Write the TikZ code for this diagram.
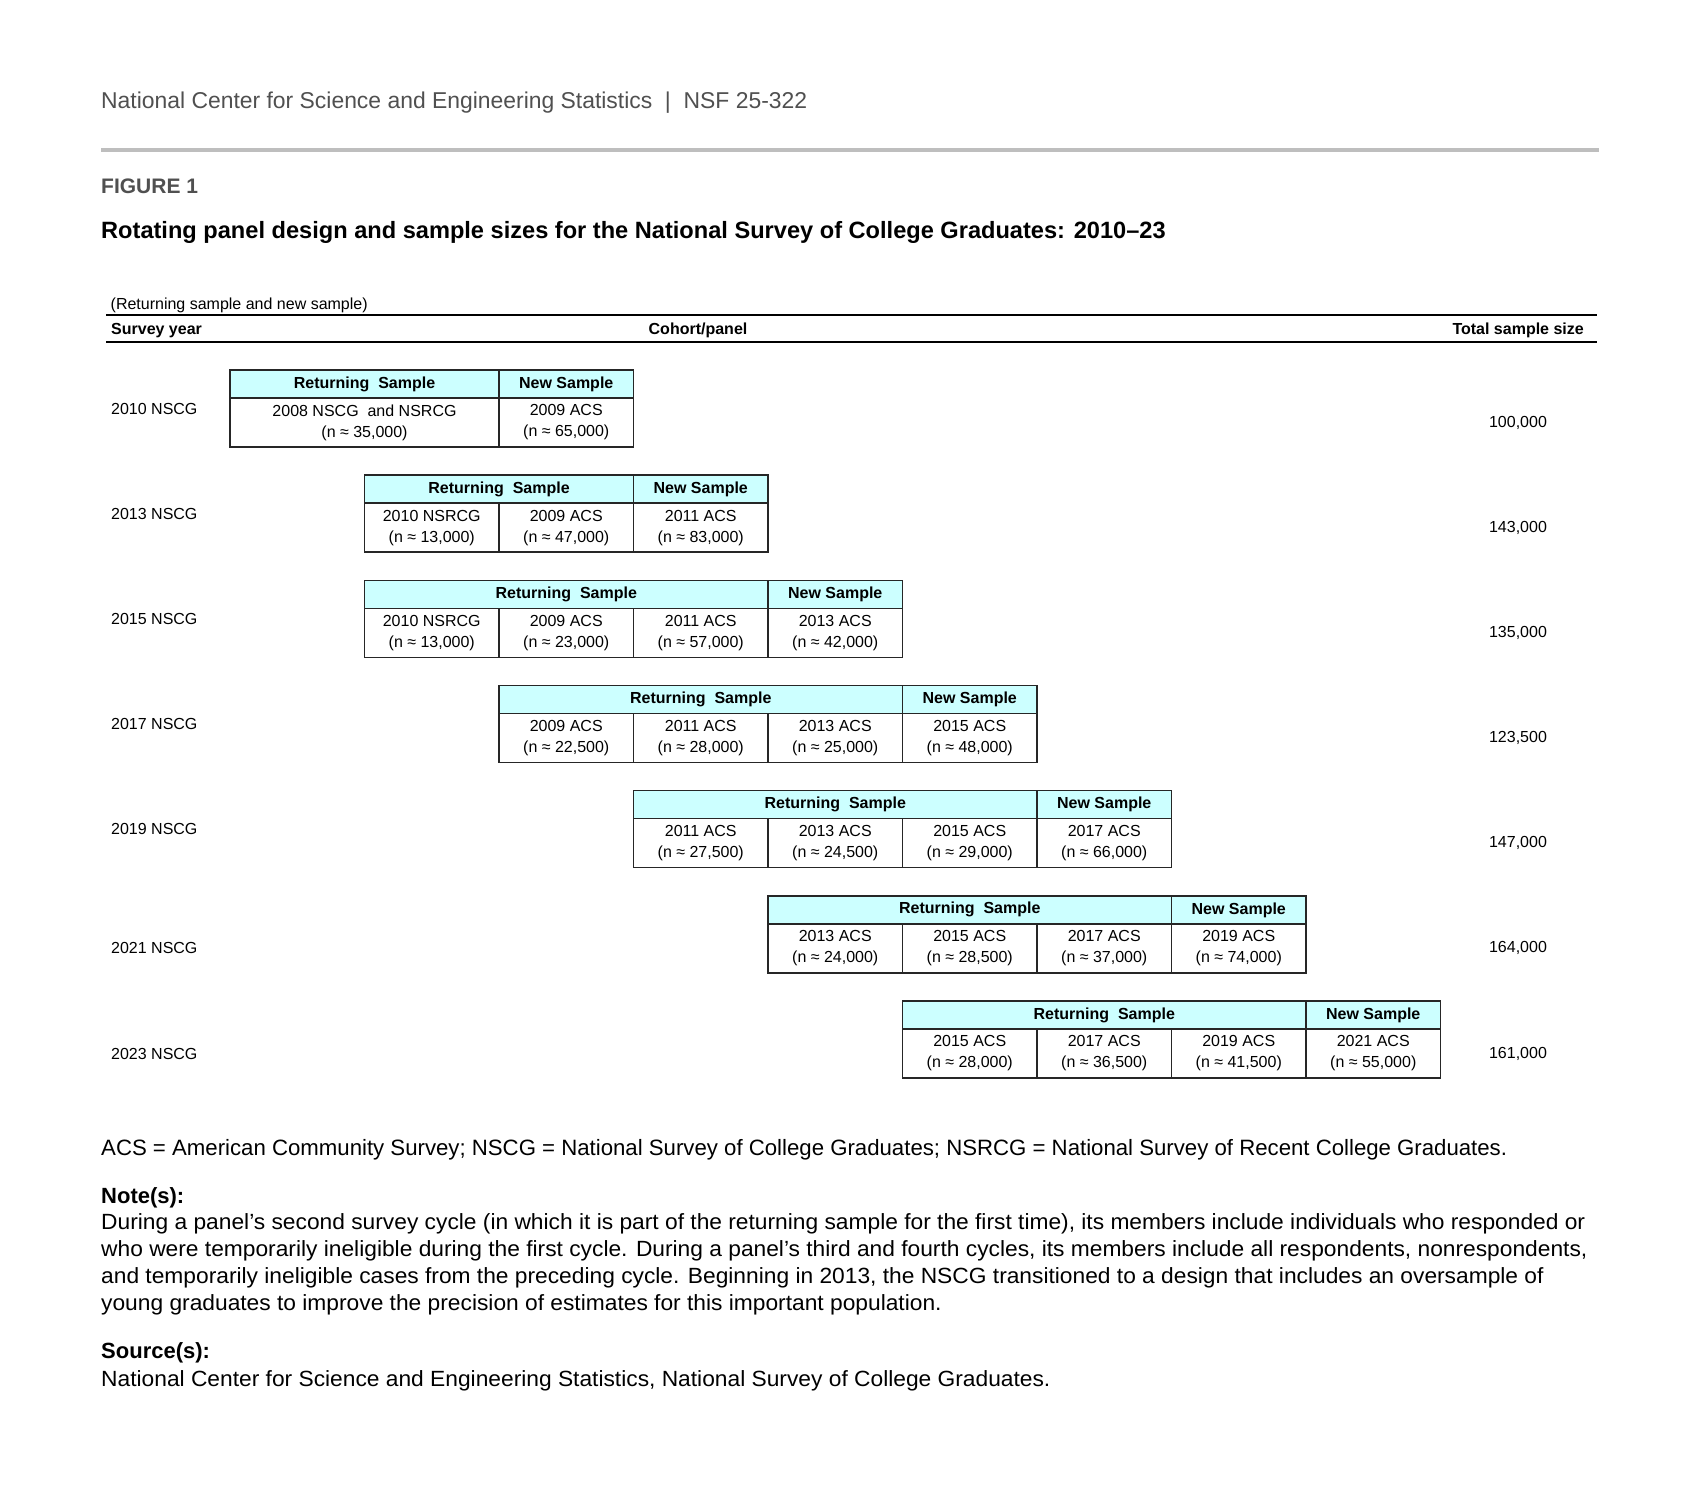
\documentclass[tikz,border=0pt]{standalone}
\usepackage{fontspec}
\setmainfont{Liberation Sans}
\newfontfamily\parafont[FakeStretch=1.035]{Liberation Sans}
\usepackage{xcolor}
\usepackage{tikz}
\usetikzlibrary{positioning}

\definecolor{hdrcyan}{RGB}{204,255,255}
\definecolor{darkgrey}{RGB}{80,80,80}
\definecolor{rulegrey}{RGB}{190,190,190}

\newcommand{\cellfont}{\fontsize{16}{21}\selectfont}
\newcommand{\notefont}{\fontsize{22}{27}\selectfont}

\tikzset{
  hdr/.style={draw=black!85, line width=1.6pt, fill=hdrcyan, anchor=north west,
    minimum height=28, inner sep=0pt, outer sep=0pt, font=\cellfont\bfseries},
  cell/.style={draw=black!85, line width=1.6pt, anchor=north west, align=center,
    minimum height=49, inner sep=0pt, outer sep=0pt, font=\cellfont},
  yrtext/.style={anchor=west, inner sep=0pt, font=\cellfont},
  tottext/.style={anchor=center, inner sep=0pt, font=\cellfont},
  notetext/.style={anchor=base west, inner sep=0pt, font=\notefont},
  paratext/.style={anchor=base west, inner sep=0pt, font=\parafont\notefont},
}

\begin{document}
\begin{tikzpicture}[x=1pt, y=-1pt]
  \def\colw{134.5}
  \def\rowh{105.17}

  \path[fill=white, use as bounding box] (0,0) rectangle (1699,1500);

  % heading
  \node[notetext, text=darkgrey, font=\fontsize{22.9}{27}\selectfont] (org) at (101,108)
    {National Center for Science and Engineering Statistics~~|~~NSF 25-322};
  \coordinate (grey_l) at (101,149.5);
  \coordinate (grey_r) at (1599,149.5);
  \draw[rulegrey, line width=4pt] (grey_l) -- (grey_r);
  \node[notetext, text=darkgrey, font=\fontsize{21}{25}\selectfont\bfseries] (fig) at (101,193) {FIGURE 1};
  \node[notetext, font=\fontsize{23.6}{27}\selectfont\bfseries] (title) at (101,238)
    {Rotating panel design and sample sizes for the National Survey of College Graduates: 2010–23};

  % column heads
  \node[notetext, font=\cellfont] (unit) at (110.5,309) {(Returning sample and new sample)};
  \coordinate (top_l) at (106,314.7);
  \coordinate (top_r) at (1597,314.7);
  \path (top_l) ++(0,27.5) coordinate (bot_l);
  \path (top_r) ++(0,27.5) coordinate (bot_r);
  \draw[line width=2pt] (top_l) -- (top_r);
  \draw[line width=2pt] (bot_l) -- (bot_r);
  \node[notetext, font=\cellfont\bfseries] (yearhd) at (111,334) {Survey year};
  \node[anchor=base, inner sep=0pt, font=\cellfont\bfseries] (panelhd) at (698,334) {Cohort/panel};
  \node[anchor=base east, inner sep=0pt, font=\cellfont\bfseries] (totalhd) at (1584,334) {Total sample size};

  \coordinate (yr_col) at (111,0);
  \coordinate (tot_col) at (1518,0);

  % 2010
  \coordinate (t10) at (230,370);
  \node[hdr, minimum width=2*\colw] (t10_ret) at (t10) {Returning~~Sample};
  \node[hdr, minimum width=\colw] (t10_new) at (t10_ret.north east) {New Sample};
  \node[cell, minimum width=2*\colw] (t10_a) at (t10_ret.south west) {2008 NSCG~~and NSRCG\\(n ≈ 35,000)};
  \node[cell, minimum width=\colw] (t10_b) at (t10_new.south west) {2009 ACS\\(n ≈ 65,000)};
  \node[yrtext] (yr10) at (111,408.5) {2010 NSCG};
  \node[tottext] (tot10) at (t10_b.center -| tot_col) {100,000};

  % 2013
  \path (t10) ++(\colw,\rowh) coordinate (t13);
  \node[hdr, minimum width=2*\colw] (t13_ret) at (t13) {Returning~~Sample};
  \node[hdr, minimum width=\colw] (t13_new) at (t13_ret.north east) {New Sample};
  \node[cell, minimum width=\colw] (t13_a) at (t13_ret.south west) {2010 NSRCG\\(n ≈ 13,000)};
  \node[cell, minimum width=\colw] (t13_b) at (t13_a.north east) {2009 ACS\\(n ≈ 47,000)};
  \node[cell, minimum width=\colw] (t13_c) at (t13_b.north east) {2011 ACS\\(n ≈ 83,000)};
  \node[yrtext] (yr13) at (111,513.7) {2013 NSCG};
  \node[tottext] (tot13) at (t13_c.center -| tot_col) {143,000};

  % 2015
  \path (t13) ++(0,\rowh) coordinate (t15);
  \node[hdr, minimum width=3*\colw] (t15_ret) at (t15) {Returning~~Sample};
  \node[hdr, minimum width=\colw] (t15_new) at (t15_ret.north east) {New Sample};
  \node[cell, minimum width=\colw] (t15_a) at (t15_ret.south west) {2010 NSRCG\\(n ≈ 13,000)};
  \node[cell, minimum width=\colw] (t15_b) at (t15_a.north east) {2009 ACS\\(n ≈ 23,000)};
  \node[cell, minimum width=\colw] (t15_c) at (t15_b.north east) {2011 ACS\\(n ≈ 57,000)};
  \node[cell, minimum width=\colw] (t15_d) at (t15_c.north east) {2013 ACS\\(n ≈ 42,000)};
  \node[yrtext] (yr15) at (111,618.8) {2015 NSCG};
  \node[tottext] (tot15) at (t15_d.center -| tot_col) {135,000};

  % 2017
  \path (t15) ++(\colw,\rowh) coordinate (t17);
  \node[hdr, minimum width=3*\colw] (t17_ret) at (t17) {Returning~~Sample};
  \node[hdr, minimum width=\colw] (t17_new) at (t17_ret.north east) {New Sample};
  \node[cell, minimum width=\colw] (t17_a) at (t17_ret.south west) {2009 ACS\\(n ≈ 22,500)};
  \node[cell, minimum width=\colw] (t17_b) at (t17_a.north east) {2011 ACS\\(n ≈ 28,000)};
  \node[cell, minimum width=\colw] (t17_c) at (t17_b.north east) {2013 ACS\\(n ≈ 25,000)};
  \node[cell, minimum width=\colw] (t17_d) at (t17_c.north east) {2015 ACS\\(n ≈ 48,000)};
  \node[yrtext] (yr17) at (111,724.0) {2017 NSCG};
  \node[tottext] (tot17) at (t17_d.center -| tot_col) {123,500};

  % 2019
  \path (t17) ++(\colw,\rowh) coordinate (t19);
  \node[hdr, minimum width=3*\colw] (t19_ret) at (t19) {Returning~~Sample};
  \node[hdr, minimum width=\colw] (t19_new) at (t19_ret.north east) {New Sample};
  \node[cell, minimum width=\colw] (t19_a) at (t19_ret.south west) {2011 ACS\\(n ≈ 27,500)};
  \node[cell, minimum width=\colw] (t19_b) at (t19_a.north east) {2013 ACS\\(n ≈ 24,500)};
  \node[cell, minimum width=\colw] (t19_c) at (t19_b.north east) {2015 ACS\\(n ≈ 29,000)};
  \node[cell, minimum width=\colw] (t19_d) at (t19_c.north east) {2017 ACS\\(n ≈ 66,000)};
  \node[yrtext] (yr19) at (111,829.2) {2019 NSCG};
  \node[tottext] (tot19) at (t19_d.center -| tot_col) {147,000};

  % 2021
  \path (t19) ++(\colw,\rowh) coordinate (t21);
  \node[hdr, minimum width=3*\colw] (t21_ret) at (t21) {Returning~~Sample};
  \node[hdr, minimum width=\colw] (t21_new) at (t21_ret.north east) {New Sample};
  \node[cell, minimum width=\colw] (t21_a) at (t21_ret.south west) {2013 ACS\\(n ≈ 24,000)};
  \node[cell, minimum width=\colw] (t21_b) at (t21_a.north east) {2015 ACS\\(n ≈ 28,500)};
  \node[cell, minimum width=\colw] (t21_c) at (t21_b.north east) {2017 ACS\\(n ≈ 37,000)};
  \node[cell, minimum width=\colw] (t21_d) at (t21_c.north east) {2019 ACS\\(n ≈ 74,000)};
  \node[yrtext] (yr21) at (t21_a.center -| yr_col) {2021 NSCG};
  \node[tottext] (tot21) at (t21_d.center -| tot_col) {164,000};

  % 2023
  \path (t21) ++(\colw,\rowh) coordinate (t23);
  \node[hdr, minimum width=3*\colw] (t23_ret) at (t23) {Returning~~Sample};
  \node[hdr, minimum width=\colw] (t23_new) at (t23_ret.north east) {New Sample};
  \node[cell, minimum width=\colw] (t23_a) at (t23_ret.south west) {2015 ACS\\(n ≈ 28,000)};
  \node[cell, minimum width=\colw] (t23_b) at (t23_a.north east) {2017 ACS\\(n ≈ 36,500)};
  \node[cell, minimum width=\colw] (t23_c) at (t23_b.north east) {2019 ACS\\(n ≈ 41,500)};
  \node[cell, minimum width=\colw] (t23_d) at (t23_c.north east) {2021 ACS\\(n ≈ 55,000)};
  \node[yrtext] (yr23) at (t23_a.center -| yr_col) {2023 NSCG};
  \node[tottext] (tot23) at (t23_d.center -| tot_col) {161,000};

  % notes
  \node[notetext, font=\fontsize{22.2}{27}\selectfont] (abbr) at (101,1155)
    {ACS = American Community Survey; NSCG = National Survey of College Graduates; NSRCG = National Survey of Recent College Graduates.};
  \node[notetext, font=\notefont\bfseries] (notehd) at (101,1203) {Note(s):};
  \node[paratext] (note1) at (101,1229)
    {During a panel’s second survey cycle (in which it is part of the returning sample for the first time), its members include individuals who responded or};
  \node[paratext] (note2) at (101,1256)
    {who were temporarily ineligible during the first cycle. During a panel’s third and fourth cycles, its members include all respondents, nonrespondents,};
  \node[paratext] (note3) at (101,1283)
    {and temporarily ineligible cases from the preceding cycle. Beginning in 2013, the NSCG transitioned to a design that includes an oversample of};
  \node[paratext] (note4) at (101,1310)
    {young graduates to improve the precision of estimates for this important population.};
  \node[notetext, font=\notefont\bfseries] (srchd) at (101,1358) {Source(s):};
  \node[paratext] (src) at (101,1386)
    {National Center for Science and Engineering Statistics, National Survey of College Graduates.};
\end{tikzpicture}
\end{document}
